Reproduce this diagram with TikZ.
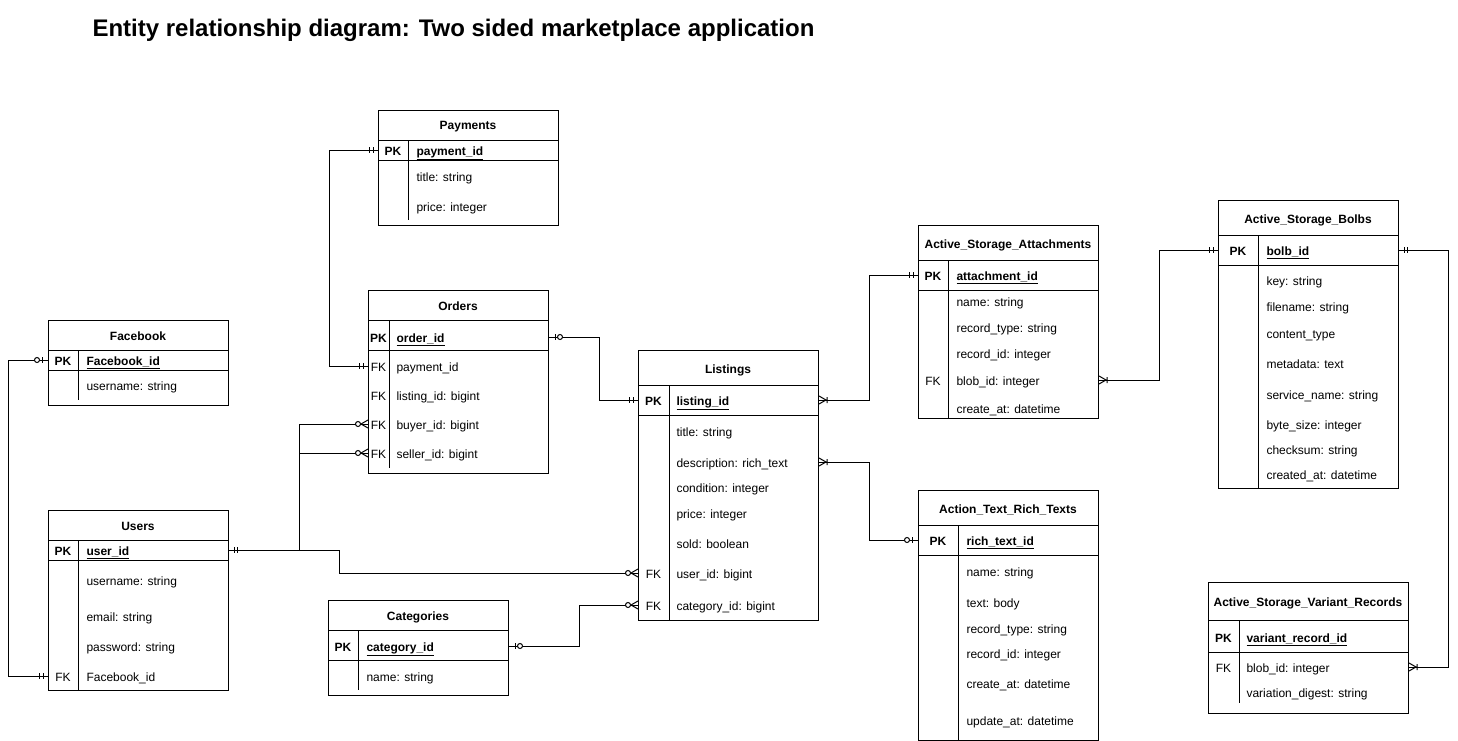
\documentclass[tikz,border=0pt]{standalone}
\usepackage{fontspec}
\setmainfont{Liberation Sans}
\begin{document}
\begin{tikzpicture}[x=1pt, y=-1pt, line width=1pt,
            entity/.style={draw, inner sep=0, anchor=north west, minimum width=180},
            txt/.style={inner sep=0, text height=12pt, text depth=2pt, font=\fontsize{12}{14}\selectfont},
            ttl/.style={txt, font=\fontsize{12}{14}\selectfont\bfseries},
            key/.style={txt},
            field/.style={txt, anchor=west},
            pk/.style={field, font=\fontsize{12}{14}\selectfont\bfseries},
            mone/.pic={\draw (5,-3) -- (5,3) (8.5,-3) -- (8.5,3);},
            zone/.pic={\draw (6,-3) -- (6,3); \draw[fill=white] (11,0) circle (2.5pt);},
            many/.pic={\draw (0,-4) -- (7,0) -- (0,4) (8,-3) -- (8,3);},
            zmany/.pic={\draw (0,-4) -- (7,0) -- (0,4); \draw[fill=white] (10,0) circle (2.5pt);}
        ]
        \useasboundingbox (0,0) rectangle (1458,741);
        \node[anchor=west, inner sep=0, font=\fontsize{24}{28}\selectfont\bfseries] (heading) at (92,30) {Entity relationship diagram: Two sided marketplace application};

        % Facebook
        \node[entity, minimum height=85] (facebook) at (48,320) {};
        \draw (48,350) -- (228,350) (48,370) -- (228,370) (78,350) -- (78,400);
        \node[ttl] (facebook-t) at (138,335) {Facebook};
        \node[key] (facebook-k) at (63,360) {\textbf{PK}};
        \node[pk] (facebook-pk) at (86,360) {\underline{Facebook\_id}};
        \node[field] (facebook-1) at (86,385) {username: string};

        % Users
        \node[entity, minimum height=180] (users) at (48,510) {};
        \draw (48,540) -- (228,540) (48,560) -- (228,560) (78,540) -- (78,690);
        \node[ttl] (users-t) at (138,525) {Users};
        \node[key] (users-k) at (63,550) {\textbf{PK}};
        \node[pk] (users-pk) at (86,550) {\underline{user\_id}};
        \foreach \y/\t [count=\i] in {580/username: string, 616/email: string, 646/password: string, 676/Facebook\_id}
            \node[field] (users-\i) at (86,\y) {\t};
        \node[key] (users-fk) at (63,676) {FK};

        % Payments
        \node[entity, minimum height=115] (payments) at (378,110) {};
        \draw (378,140) -- (558,140) (378,160) -- (558,160) (408,140) -- (408,220);
        \node[ttl] (payments-t) at (468,125) {Payments};
        \node[key] (payments-k) at (393,150) {\textbf{PK}};
        \node[pk] (payments-pk) at (416,150) {\underline{payment\_id}};
        \foreach \y/\t [count=\i] in {176/title: string, 206/price: integer}
            \node[field] (payments-\i) at (416,\y) {\t};

        % Orders
        \node[entity, minimum height=183] (orders) at (368,290) {};
        \draw (368,320) -- (548,320) (368,350) -- (548,350) (389,320) -- (389,468);
        \node[ttl] (orders-t) at (458,305) {Orders};
        \node[key] (orders-k) at (378.5,337) {\textbf{PK}};
        \node[pk] (orders-pk) at (396,337) {\underline{order\_id}};
        \foreach \y/\t [count=\i] in {366/payment\_id, 395/listing\_id: bigint, 424/buyer\_id: bigint, 453/seller\_id: bigint} {
            \node[field] (orders-\i) at (396,\y) {\t};
            \node[key] (orders-fk\i) at (378.5,\y) {FK};
        }

        % Listings
        \node[entity, minimum height=270] (listings) at (638,350) {};
        \draw (638,385) -- (818,385) (638,415) -- (818,415) (669,385) -- (669,620);
        \node[ttl] (listings-t) at (728,368) {Listings};
        \node[key] (listings-k) at (653.5,400) {\textbf{PK}};
        \node[pk] (listings-pk) at (676,400) {\underline{listing\_id}};
        \foreach \y/\t [count=\i] in {431/title: string, 462/description: rich\_text, 487/condition: integer, 513/price: integer, 543/sold: boolean, 573/user\_id: bigint, 605/category\_id: bigint}
            \node[field] (listings-\i) at (676,\y) {\t};
        \node[key] (listings-fk6) at (653.5,573) {FK};
        \node[key] (listings-fk7) at (653.5,605) {FK};

        % Active_Storage_Attachments
        \node[entity, minimum height=193] (attach) at (918,225) {};
        \draw (918,260) -- (1098,260) (918,290) -- (1098,290) (948,260) -- (948,418);
        \node[ttl] (attach-t) at (1008,243) {Active\_Storage\_Attachments};
        \node[key] (attach-k) at (933,275) {\textbf{PK}};
        \node[pk] (attach-pk) at (956,275) {\underline{attachment\_id}};
        \foreach \y/\t [count=\i] in {301/name: string, 327/record\_type: string, 353/record\_id: integer, 380/blob\_id: integer, 408/create\_at: datetime}
            \node[field] (attach-\i) at (956,\y) {\t};
        \node[key] (attach-fk) at (933,380) {FK};

        % Active_Storage_Bolbs
        \node[entity, minimum height=288] (bolbs) at (1218,200) {};
        \draw (1218,235) -- (1398,235) (1218,265) -- (1398,265) (1258,235) -- (1258,488);
        \node[ttl] (bolbs-t) at (1308,218) {Active\_Storage\_Bolbs};
        \node[key] (bolbs-k) at (1238,250) {\textbf{PK}};
        \node[pk] (bolbs-pk) at (1266,250) {\underline{bolb\_id}};
        \foreach \y/\t [count=\i] in {280/key: string, 306/filename: string, 333/content\_type, 363/metadata: text, 394/service\_name: string, 424/byte\_size: integer, 449/checksum: string, 474/created\_at: datetime}
            \node[field] (bolbs-\i) at (1266,\y) {\t};

        % Action_Text_Rich_Texts
        \node[entity, minimum height=250] (rich) at (918,490) {};
        \draw (918,525) -- (1098,525) (918,555) -- (1098,555) (958,525) -- (958,740);
        \node[ttl] (rich-t) at (1008,508) {Action\_Text\_Rich\_Texts};
        \node[key] (rich-k) at (938,540) {\textbf{PK}};
        \node[pk] (rich-pk) at (966,540) {\underline{rich\_text\_id}};
        \foreach \y/\t [count=\i] in {571/name: string, 602/text: body, 628/record\_type: string, 653/record\_id: integer, 683/create\_at: datetime, 720/update\_at: datetime}
            \node[field] (rich-\i) at (966,\y) {\t};

        % Active_Storage_Variant_Records
        \node[entity, minimum width=200, minimum height=131] (variant) at (1208,582) {};
        \draw (1208,620) -- (1408,620) (1208,652) -- (1408,652) (1239,620) -- (1239,703);
        \node[ttl] (variant-t) at (1308,601) {Active\_Storage\_Variant\_Records};
        \node[key] (variant-k) at (1223.5,637) {\textbf{PK}};
        \node[pk] (variant-pk) at (1246,637) {\underline{variant\_record\_id}};
        \foreach \y/\t [count=\i] in {667/blob\_id: integer, 692/variation\_digest: string}
            \node[field] (variant-\i) at (1246,\y) {\t};
        \node[key] (variant-fk) at (1223.5,667) {FK};

        % Categories
        \node[entity, minimum height=95] (categories) at (328,600) {};
        \draw (328,630) -- (508,630) (328,660) -- (508,660) (358,630) -- (358,690);
        \node[ttl] (categories-t) at (418,615) {Categories};
        \node[key] (categories-k) at (343,646) {\textbf{PK}};
        \node[pk] (categories-pk) at (366,646) {\underline{category\_id}};
        \node[field] (categories-1) at (366,676) {name: string};

        % relations
        \draw (users.west |- users-4) -- ++(-40,0) |- (facebook.west |- facebook-pk);
        \draw (orders.west |- orders-1) -- ++(-39,0) |- (payments.west |- payments-pk);
        \draw (orders.east |- orders-pk) -- ++(50,0) |- (listings.west |- listings-pk);
        \draw (users.east |- users-pk) -- ++(70,0) coordinate (userjoin) |- (orders.west |- orders-3);
        \draw (userjoin) |- (orders.west |- orders-4);
        \draw (userjoin) -- ++(40,0) |- (listings.west |- listings-6);
        \draw (categories.east |- categories-pk) -- ++(70,0) |- (listings.west |- listings-7);
        \draw (listings.east |- listings-pk) -- ++(50,0) |- (attach.west |- attach-pk);
        \draw (listings.east |- listings-2) -- ++(50,0) |- (rich.west |- rich-pk);
        \draw (attach.east |- attach-4) -- ++(60,0) |- (bolbs.west |- bolbs-pk);
        \draw (bolbs.east |- bolbs-pk) -- ++(49,0) |- (variant.east |- variant-1);

        % ends
        \pic[xscale=-1] at (users.west |- users-4) {mone};
        \pic[xscale=-1] at (facebook.west |- facebook-pk) {zone};
        \pic[xscale=-1] at (orders.west |- orders-1) {mone};
        \pic[xscale=-1] at (payments.west |- payments-pk) {mone};
        \pic at (orders.east |- orders-pk) {zone};
        \pic[xscale=-1] at (listings.west |- listings-pk) {mone};
        \pic at (users.east |- users-pk) {mone};
        \pic[xscale=-1] at (orders.west |- orders-3) {zmany};
        \pic[xscale=-1] at (orders.west |- orders-4) {zmany};
        \pic[xscale=-1] at (listings.west |- listings-6) {zmany};
        \pic at (categories.east |- categories-pk) {zone};
        \pic[xscale=-1] at (listings.west |- listings-7) {zmany};
        \pic at (listings.east |- listings-pk) {many};
        \pic[xscale=-1] at (attach.west |- attach-pk) {mone};
        \pic at (listings.east |- listings-2) {many};
        \pic[xscale=-1] at (rich.west |- rich-pk) {zone};
        \pic at (attach.east |- attach-4) {many};
        \pic[xscale=-1] at (bolbs.west |- bolbs-pk) {mone};
        \pic at (bolbs.east |- bolbs-pk) {mone};
        \pic at (variant.east |- variant-1) {many};
\end{tikzpicture}
\end{document}
